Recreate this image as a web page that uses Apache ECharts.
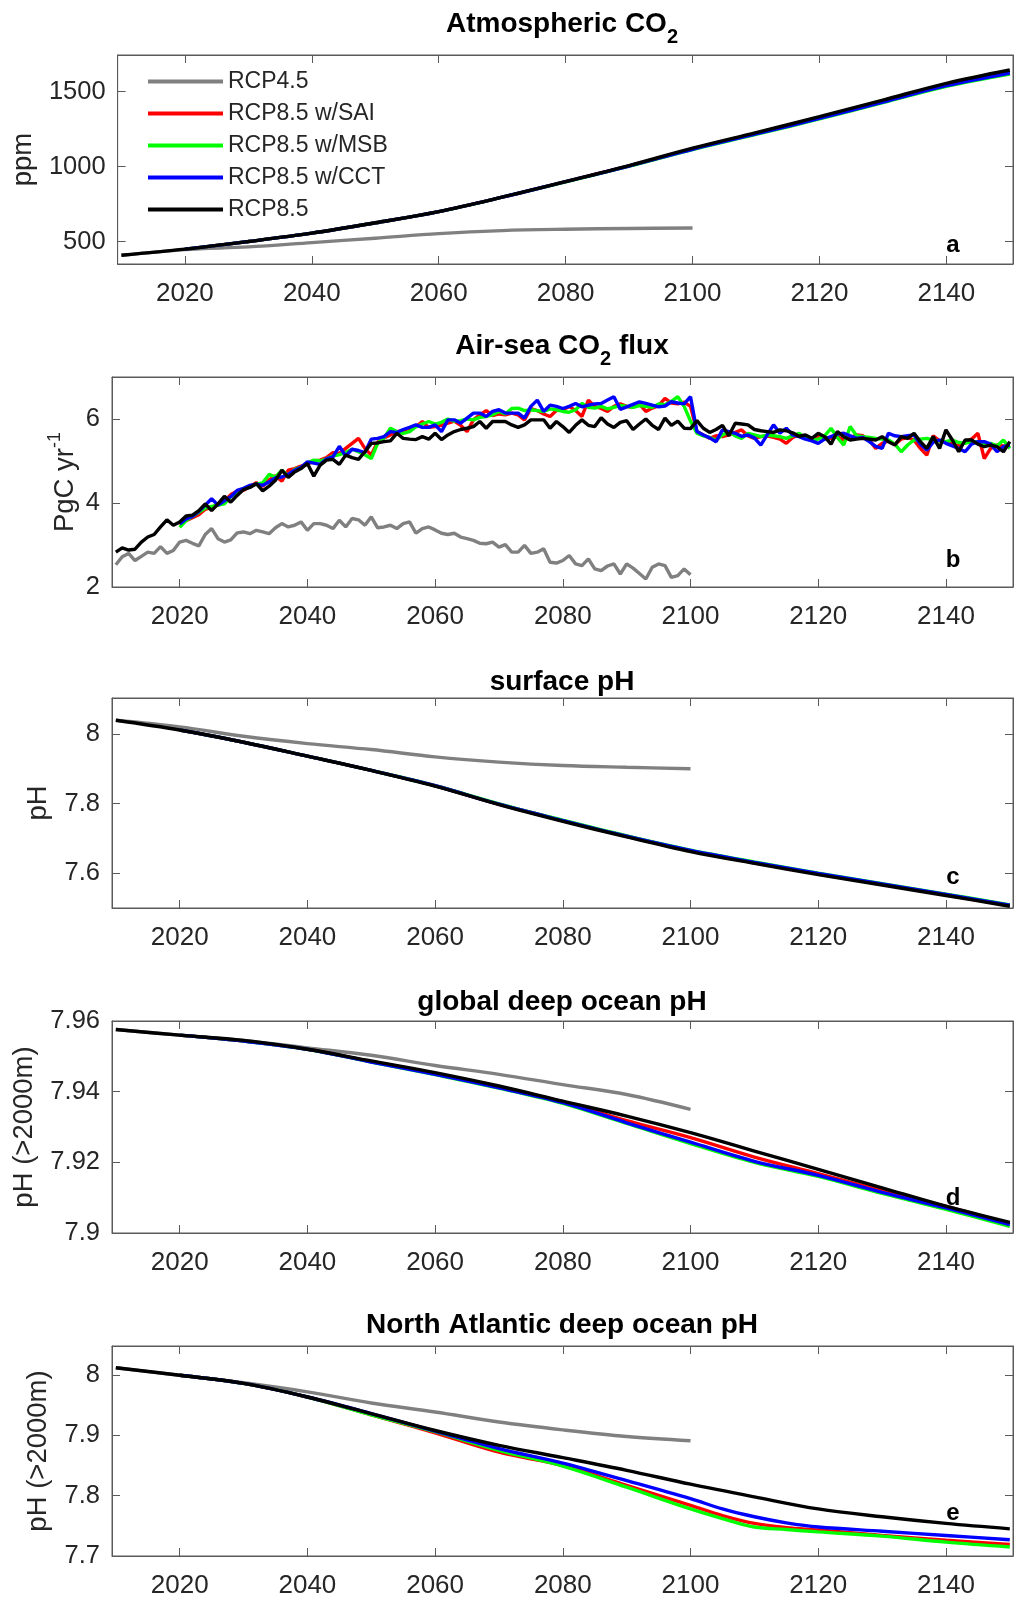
<!DOCTYPE html>
<html><head><meta charset="utf-8">
<script src="https://cdn.jsdelivr.net/npm/echarts@6/dist/echarts.min.js"></script>
<style>html,body{margin:0;padding:0;background:#fff}#c{width:1016px;height:1601px}</style>
</head><body><div id="c"></div>
<script>
// ---------- DATA ----------
const seriesNames = ['RCP4.5', 'RCP8.5 w/SAI', 'RCP8.5 w/MSB', 'RCP8.5 w/CCT', 'RCP8.5'];
const xTicks = [2020, 2040, 2060, 2080, 2100, 2120, 2140];

// decadal years
const yrs85 = [2010,2020,2030,2040,2050,2060,2070,2080,2090,2100,2110,2120,2130,2140,2150];
const yrs45 = [2010,2020,2030,2040,2050,2060,2070,2080,2090,2100];
const yrsGeo = [2020,2030,2040,2050,2060,2070,2080,2090,2100,2110,2120,2130,2140,2150];
const yrsGeoE = [2020,2030,2040,2050,2060,2070,2080,2090,2100,2105,2110,2115,2120,2130,2140,2150];

// (a) Atmospheric CO2, ppm
const co2Ticks = [500, 1000, 1500];
const co2_45  = [408,446,464,493,522,553,573,582,587,590];
const co2_SAI = [449,500,556,625,700,796,900,1005,1118,1220,1325,1435,1545,1628];
const co2_MSB = [449,500,556,625,700,796,899,1003,1114,1215,1318,1427,1536,1618];
const co2_CCT = [449,500,556,625,700,796,900,1004,1116,1218,1322,1431,1540,1625];
const co2_85  = [408,449,500,556,625,700,796,900,1007,1123,1227,1333,1444,1556,1645];

// (b) Air-sea CO2 flux, PgC/yr (annual values)
const fluxTicks = [2, 4, 6];
const flux45Start = 2010, fluxGeoStart = 2020, flux85Start = 2010;
const flux_45 = [2.53,2.72,2.80,2.63,2.73,2.83,2.80,2.96,2.80,2.87,
  3.07,3.11,3.04,2.98,3.25,3.39,3.15,3.07,3.12,3.29,
  3.31,3.27,3.35,3.31,3.27,3.41,3.51,3.43,3.47,3.55,
  3.35,3.51,3.51,3.47,3.39,3.59,3.43,3.63,3.60,3.47,
  3.67,3.41,3.43,3.47,3.39,3.51,3.55,3.28,3.39,3.43,
  3.36,3.28,3.25,3.28,3.19,3.15,3.11,3.04,3.03,3.07,
  2.95,3.01,2.83,2.83,2.99,2.80,2.83,2.91,2.59,2.57,
  2.63,2.75,2.55,2.51,2.67,2.43,2.39,2.50,2.55,2.31,
  2.55,2.45,2.32,2.19,2.47,2.55,2.51,2.23,2.27,2.43,2.29];
const flux_SAI = [3.48,3.58,3.65,3.72,3.85,3.90,3.95,4.05,4.20,4.28,
  4.30,4.40,4.48,4.40,4.55,4.65,4.52,4.78,4.82,4.88,
  4.92,5.00,5.02,5.08,5.20,5.18,5.30,5.42,5.54,5.30,
  5.14,5.45,5.55,5.62,5.70,5.72,5.78,5.82,5.94,5.80,
  5.82,5.85,5.90,5.95,5.85,5.70,5.98,6.10,6.20,6.08,
  6.12,6.10,6.14,6.10,5.98,6.25,6.20,6.12,6.06,6.20,
  6.22,6.30,6.20,6.06,6.45,6.30,6.25,6.18,6.30,6.36,
  6.30,6.28,6.36,6.18,6.26,6.32,6.49,6.38,6.36,6.40,
  6.30,5.70,5.62,5.54,5.60,5.58,5.62,5.68,5.74,5.60,
  5.54,5.58,5.60,5.56,5.52,5.42,5.56,5.62,5.56,5.52,
  5.58,5.56,5.54,5.58,5.50,5.56,5.62,5.60,5.50,5.30,
  5.42,5.48,5.40,5.52,5.56,5.50,5.30,5.14,5.60,5.48,
  5.46,5.40,5.36,5.46,5.52,5.66,5.06,5.30,5.38,5.36,5.34];
const flux_MSB = [3.42,3.58,3.68,3.78,3.88,3.92,3.95,3.98,4.15,4.25,
  4.35,4.40,4.45,4.48,4.68,4.62,4.78,4.65,4.80,4.85,
  4.95,5.02,5.00,5.05,5.12,5.15,5.20,5.28,5.22,5.15,
  5.06,5.42,5.55,5.78,5.70,5.66,5.70,5.82,5.88,5.94,
  5.88,5.92,6.00,5.95,5.96,6.00,5.98,6.04,6.06,6.10,
  6.18,6.12,6.25,6.26,6.20,6.22,6.20,6.18,6.24,6.22,
  6.18,6.16,6.22,6.37,6.28,6.26,6.30,6.24,6.28,6.32,
  6.30,6.28,6.32,6.30,6.28,6.36,6.34,6.42,6.53,6.30,
  5.95,5.66,5.60,5.56,5.50,5.62,5.70,5.60,5.54,5.66,
  5.62,5.58,5.62,5.60,5.58,5.54,5.60,5.66,5.54,5.50,
  5.52,5.60,5.78,5.56,5.38,5.82,5.60,5.58,5.56,5.54,
  5.52,5.50,5.40,5.22,5.38,5.50,5.52,5.54,5.50,5.48,
  5.46,5.50,5.44,5.42,5.46,5.46,5.40,5.42,5.36,5.50,5.30];
const flux_CCT = [3.50,3.62,3.68,3.80,3.95,4.10,3.95,4.05,4.15,4.30,
  4.35,4.42,4.45,4.42,4.50,4.60,4.62,4.68,4.78,4.85,
  4.98,4.95,4.92,5.05,5.10,5.35,5.12,5.28,5.25,5.20,
  5.52,5.54,5.58,5.70,5.68,5.75,5.80,5.86,5.80,5.80,
  5.86,5.70,5.98,5.98,5.90,6.02,6.14,6.14,6.06,6.18,
  6.22,6.14,6.14,6.14,6.02,6.30,6.45,6.18,6.33,6.30,
  6.25,6.30,6.37,6.29,6.33,6.36,6.37,6.45,6.53,6.23,
  6.29,6.35,6.41,6.37,6.33,6.29,6.31,6.41,6.38,6.36,
  6.53,5.70,5.62,5.55,5.46,5.74,5.70,5.66,5.59,5.62,
  5.55,5.38,5.62,5.86,5.66,5.78,5.62,5.58,5.52,5.48,
  5.42,5.52,5.58,5.64,5.66,5.60,5.54,5.56,5.46,5.35,
  5.30,5.66,5.60,5.58,5.60,5.62,5.40,5.26,5.45,5.50,
  5.42,5.36,5.30,5.22,5.40,5.46,5.46,5.40,5.22,5.34,5.38];
const flux_85 = [2.83,2.93,2.88,2.90,3.07,3.19,3.25,3.43,3.60,3.47,
  3.55,3.69,3.71,3.82,3.98,3.82,3.98,4.16,4.02,4.18,
  4.32,4.37,4.46,4.29,4.40,4.54,4.78,4.61,4.74,4.82,
  4.94,4.64,4.90,5.02,5.04,4.92,5.14,5.08,5.04,5.22,
  5.42,5.43,5.46,5.48,5.66,5.54,5.52,5.51,5.58,5.52,
  5.66,5.51,5.62,5.70,5.75,5.78,5.82,5.94,5.78,5.94,
  5.94,5.94,5.86,5.80,5.86,5.98,5.98,5.98,5.78,5.94,
  5.82,5.68,5.85,5.98,5.85,5.82,6.03,5.88,5.80,5.92,
  5.96,5.75,5.88,6.00,5.85,5.75,6.02,5.85,5.95,5.78,
  5.77,5.96,5.78,5.68,5.75,5.85,5.60,5.90,5.88,5.86,
  5.75,5.72,5.70,5.68,5.74,5.72,5.67,5.59,5.62,5.54,
  5.66,5.58,5.40,5.70,5.58,5.50,5.52,5.54,5.52,5.50,
  5.58,5.46,5.38,5.58,5.54,5.66,5.46,5.30,5.58,5.30,
  5.74,5.50,5.22,5.50,5.50,5.40,5.34,5.38,5.34,5.22,5.46];

// (c) surface pH
const phsTicks = [7.6, 7.8, 8];
const phs_45  = [8.039,8.020,7.993,7.972,7.955,7.934,7.919,7.909,7.904,7.900];
const phs_SAI = [8.011,7.976,7.936,7.895,7.851,7.798,7.751,7.706,7.664,7.630,7.598,7.568,7.538,7.507];
const phs_MSB = [8.011,7.976,7.936,7.895,7.851,7.799,7.752,7.707,7.666,7.632,7.600,7.570,7.540,7.509];
const phs_CCT = [8.011,7.976,7.936,7.895,7.851,7.798,7.751,7.706,7.665,7.631,7.599,7.569,7.539,7.508];
const phs_85  = [8.039,8.011,7.976,7.936,7.895,7.850,7.797,7.749,7.704,7.662,7.628,7.596,7.566,7.536,7.505];

// (d) global deep ocean pH (>2000m)
const phdTicks = [7.9, 7.92, 7.94, 7.96];
const phd_45  = [7.9576,7.9560,7.9545,7.9524,7.9503,7.9474,7.9449,7.9420,7.9392,7.9350];
const phd_SAI = [7.9560,7.9543,7.9520,7.9485,7.9451,7.9413,7.9371,7.9318,7.9270,7.9215,7.9168,7.9120,7.9075,7.9027];
const phd_MSB = [7.9560,7.9543,7.9520,7.9484,7.9448,7.9410,7.9367,7.9310,7.9253,7.9200,7.9160,7.9112,7.9067,7.9019];
const phd_CCT = [7.9560,7.9543,7.9520,7.9484,7.9449,7.9411,7.9369,7.9312,7.9257,7.9203,7.9163,7.9115,7.9071,7.9024];
const phd_85  = [7.9576,7.9560,7.9545,7.9520,7.9487,7.9454,7.9416,7.9373,7.9331,7.9284,7.9232,7.9180,7.9128,7.9076,7.9030];

// (e) North Atlantic deep ocean pH (>2000m)
const phnTicks = [7.7, 7.8, 7.9, 8];
const phn_45  = [8.012,7.9995,7.987,7.972,7.9536,7.9387,7.922,7.909,7.898,7.891];
const phn_SAI = [7.9995,7.986,7.9635,7.934,7.904,7.872,7.850,7.817,7.784,7.767,7.754,7.747,7.743,7.734,7.726,7.719];
const phn_MSB = [7.9995,7.986,7.9635,7.934,7.906,7.875,7.849,7.814,7.778,7.762,7.748,7.744,7.740,7.733,7.723,7.715];
const phn_CCT = [7.9995,7.986,7.9635,7.936,7.907,7.878,7.854,7.825,7.795,7.778,7.765,7.755,7.748,7.741,7.734,7.727];
const phn_85  = [8.012,7.9995,7.986,7.9635,7.936,7.908,7.8834,7.863,7.842,7.819,7.798,7.778,7.765,7.754,7.745];

// ---------- BUILD ----------
const FONT = "'Liberation Sans', Arial, Helvetica, sans-serif";
const FRAME = '#5a5a5a';
const TXT = '#262626';
const colors = ['#808080', '#ff0000', '#00ff00', '#0000ff', '#000000'];

function pair(xs, ys) { return ys.map((v, i) => [xs[i], v]); }
function annual(start, ys) { return ys.map((v, i) => [start + i, v]); }

const panels = [
  { top: 55, height: 209, ymin: 350, ymax: 1745, ticks: co2Ticks, smooth: true,
    data: [pair(yrs45, co2_45), pair(yrsGeo, co2_SAI), pair(yrsGeo, co2_MSB), pair(yrsGeo, co2_CCT), pair(yrs85, co2_85)],
    name: 'ppm', nameGap: 75, move: true },
  { top: 377, height: 210, ymin: 2, ymax: 7, ticks: fluxTicks, smooth: false,
    data: [annual(flux45Start, flux_45), annual(fluxGeoStart, flux_SAI), annual(fluxGeoStart, flux_MSB), annual(fluxGeoStart, flux_CCT), annual(flux85Start, flux_85)],
    name: '{m|PgC yr}{s|-1}', nameGap: 32, move: false },
  { top: 698, height: 210, ymin: 7.5, ymax: 8.103, ticks: phsTicks, smooth: true,
    data: [pair(yrs45, phs_45), pair(yrsGeo, phs_SAI), pair(yrsGeo, phs_MSB), pair(yrsGeo, phs_CCT), pair(yrs85, phs_85)],
    name: 'pH', nameGap: 53, move: true },
  { top: 1021, height: 212, ymin: 7.9, ymax: 7.96, ticks: phdTicks, smooth: true,
    data: [pair(yrs45, phd_45), pair(yrsGeo, phd_SAI), pair(yrsGeo, phd_MSB), pair(yrsGeo, phd_CCT), pair(yrs85, phd_85)],
    name: 'pH (>2000m)', nameGap: 68, move: true },
  { top: 1346, height: 210, ymin: 7.7, ymax: 8.048, ticks: phnTicks, smooth: true,
    data: [pair(yrs45, phn_45), pair(yrsGeoE, phn_SAI), pair(yrsGeoE, phn_MSB), pair(yrsGeoE, phn_CCT), pair(yrs85, phn_85)],
    name: 'pH (>2000m)', nameGap: 53, move: true }
];

const titles = [
  { text: '{m|Atmospheric CO}{s|2}', cy: 25, sub: true },
  { text: '{m|Air-sea CO}{s|2}{m| flux}', cy: 347, sub: true },
  { text: 'surface pH', cy: 682, sub: false },
  { text: 'global deep ocean pH', cy: 1002, sub: false },
  { text: 'North Atlantic deep ocean pH', cy: 1325, sub: false }
];
const letters = [
  { t: 'a', y: 245 }, { t: 'b', y: 560 }, { t: 'c', y: 877 }, { t: 'd', y: 1198 }, { t: 'e', y: 1513 }
];

const grid = [], xAxis = [], yAxis = [], series = [], title = [], graphic = [];
const fmt = v => String(+(+v).toFixed(3));

panels.forEach((p, i) => {
  grid.push({ left: 112, right: 3, top: p.top, height: p.height, show: true, borderColor: FRAME, borderWidth: 1, containLabel: false });
  const baseX = {
    type: 'value', gridIndex: i, min: 2009.4, max: 2150.5, splitLine: { show: false },
    axisLine: { show: true, lineStyle: { color: FRAME, width: 1 } },
    axisTick: { show: true, inside: true, length: 8, customValues: xTicks, lineStyle: { color: FRAME, width: 1 } }
  };
  xAxis.push(Object.assign({}, baseX, { position: 'bottom',
    axisLabel: { show: true, customValues: xTicks, fontSize: 26, color: TXT, fontFamily: FONT, margin: 17, formatter: fmt } }));
  xAxis.push(Object.assign({}, baseX, { position: 'top', axisLabel: { show: false } }));
  const baseY = {
    type: 'value', gridIndex: i, min: p.ymin, max: p.ymax, splitLine: { show: false },
    axisLine: { show: true, lineStyle: { color: FRAME, width: 1 } },
    axisTick: { show: true, inside: true, length: 8, customValues: p.ticks, lineStyle: { color: FRAME, width: 1 } }
  };
  const yMain = Object.assign({}, baseY, { position: 'left',
    axisLabel: { show: true, customValues: p.ticks, fontSize: 25.5, color: TXT, fontFamily: FONT, margin: 12, formatter: fmt },
    name: p.name, nameLocation: 'middle', nameRotate: 90, nameGap: p.nameGap,
    nameTextStyle: { fontSize: 27.5, color: TXT, fontFamily: FONT, lineHeight: 30,
      rich: { m: { fontSize: 27.5, color: TXT, fontFamily: FONT, lineHeight: 30 },
              s: { fontSize: 18, color: TXT, fontFamily: FONT, lineHeight: 30, padding: [0, 0, 20, 0] } } } });
  if (!p.move) yMain.nameMoveOverlap = false;
  yAxis.push(yMain);
  yAxis.push(Object.assign({}, baseY, { position: 'right', axisLabel: { show: false } }));

  p.data.forEach((d, k) => {
    series.push({
      type: 'line', name: seriesNames[k], xAxisIndex: 2 * i, yAxisIndex: 2 * i,
      data: d, showSymbol: false, symbol: 'none', smooth: p.smooth ? 0.35 : false,
      lineStyle: { color: colors[k], width: 3.4 }, itemStyle: { color: colors[k] },
      emphasis: { disabled: true }, z: 2 + k, clip: true
    });
  });
});

titles.forEach(t => {
  const top = t.sub ? t.cy - 16 : t.cy - 15;
  title.push({
    text: t.text, left: 562, top: top, textAlign: 'center', padding: 0,
    textStyle: { fontSize: 28, fontWeight: 'bold', color: '#000', fontFamily: FONT, lineHeight: 30,
      rich: { m: { fontSize: 28, fontWeight: 'bold', color: '#000', fontFamily: FONT, lineHeight: 30 },
              s: { fontSize: 20, fontWeight: 'bold', color: '#000', fontFamily: FONT, lineHeight: 30, padding: [26, 0, 0, 0] } } }
  });
});

letters.forEach(l => {
  graphic.push({ type: 'text', x: 953, y: l.y, z: 100,
    style: { text: l.t, font: "bold 24px 'Liberation Sans', Arial, sans-serif", fill: '#000', align: 'center', verticalAlign: 'middle' } });
});

const chart = echarts.init(document.getElementById('c'), null, { renderer: 'canvas' });
chart.setOption({
  backgroundColor: '#fff',
  animation: false,
  title, grid, xAxis, yAxis, series, graphic,
  legend: {
    show: true, orient: 'vertical', left: 143, top: 65, itemWidth: 75, itemHeight: 4, itemGap: 9,
    icon: 'rect',
    data: seriesNames, backgroundColor: 'transparent', borderWidth: 0,
    textStyle: { fontSize: 23, color: TXT, fontFamily: FONT, lineHeight: 23 }
  }
});
</script></body></html>
